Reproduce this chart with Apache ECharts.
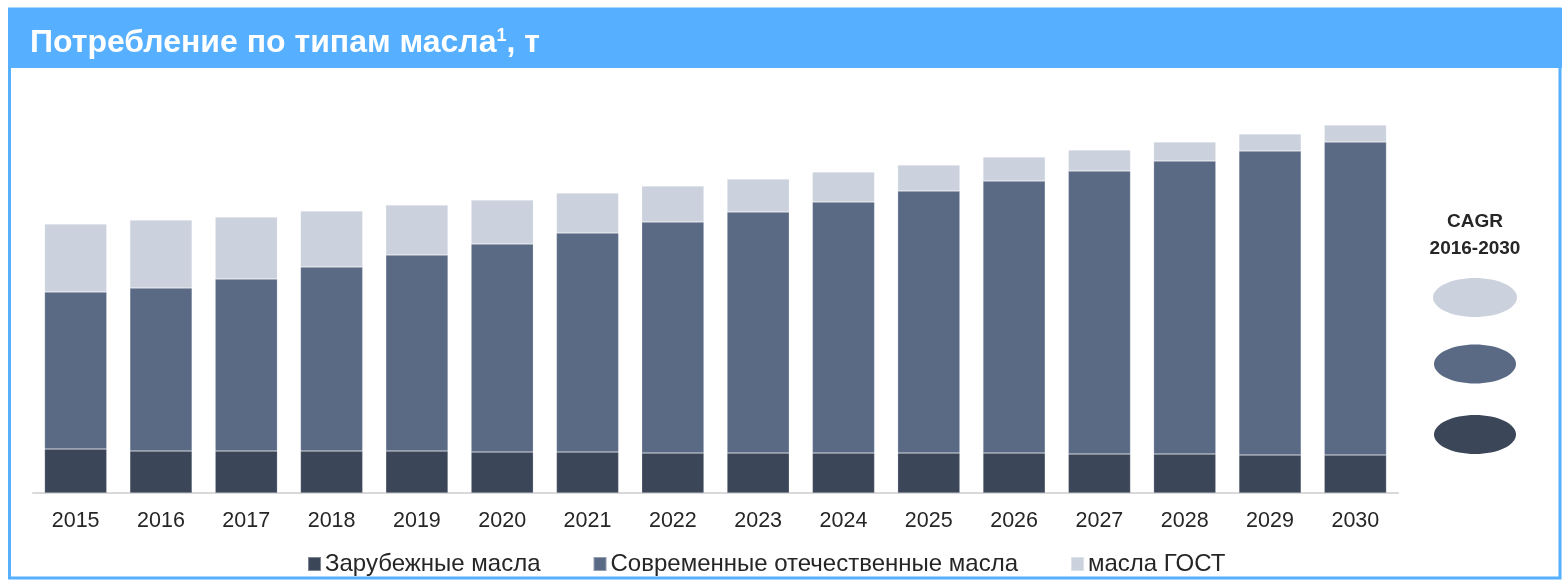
<!DOCTYPE html>
<html>
<head>
<meta charset="utf-8">
<script src="https://cdn.jsdelivr.net/npm/echarts@6/dist/echarts.min.js"></script>
<style>
html,body{margin:0;padding:0;background:#fff;}
#chart{width:1562px;height:581px;}
</style>
</head>
<body>
<div id="chart"></div>
<script>
const years = ['2015','2016','2017','2018','2019','2020','2021','2022','2023','2024','2025','2026','2027','2028','2029','2030'];
const foreignOils = [44,42,42,42,42,41,41,40,40,40,40,40,39,39,38,38];
const modernDomestic = [157,163,172,184,196,208,219,231,241,251,262,272,283,293,304,313];
const gostOils = [68,68,62,56,50,44,40,36,33,30,26,24,21,19,17,17];
const seriesNames = ['Зарубежные масла','Современные отечественные масла','масла ГОСТ'];
const colors = ['#3B4659','#5A6A85','#CBD1DD'];
const FONT = "Arial, 'Liberation Sans', sans-serif";

const chart = echarts.init(document.getElementById('chart'), null, {renderer:'canvas'});
const dataSets = [foreignOils, modernDomestic, gostOils];
const option = {
  animation:false,
  color: colors,
  title: {
    text: '{a|Потребление по типам масла}{s|1}{a|, т}',
    left: 25, top: 22,
    textStyle: {
      rich: {
        a: {fontFamily: FONT, fontSize: 32, fontWeight: 'bold', color: '#fff'},
        s: {fontFamily: FONT, fontSize: 18, fontWeight: 'bold', color: '#fff', verticalAlign: 'top', padding:[0,0,14,0]}
      }
    }
  },
  grid: {left: 33, right: 164, top: 93, bottom: 88, containLabel: false},
  legend: {
    left: 302, top: 547,
    icon: 'rect', itemWidth: 13, itemHeight: 14, itemGap: 52,
    textStyle: {fontFamily: FONT, fontSize: 24, color: '#262626', padding:[0,0,0,-1]},
    data: seriesNames
  },
  xAxis: {
    type: 'category', data: years,
    axisLine: {lineStyle: {color: '#D9D9D9', width: 2}},
    axisTick: {show: false},
    axisLabel: {fontFamily: FONT, fontSize: 21.5, color: '#262626', margin: 17}
  },
  yAxis: {type: 'value', min: 0, max: 400, show: false, splitLine: {show: false}},
  series: dataSets.map((d, i) => ({
    name: seriesNames[i], type: 'bar', stack: 'total', data: d,
    barWidth: '73%',
    itemStyle: {color: colors[i], borderColor: 'rgba(255,255,255,0.35)', borderWidth: 0.6}
  })),
  graphic: [
    {type: 'rect', z: -1, shape: {x: 9.5, y: 9, width: 1550.5, height: 569}, style: {fill: 'none', stroke: '#56AFFF', lineWidth: 3}},
    {type: 'rect', z: 0, shape: {x: 8, y: 8, width: 1554, height: 60}, style: {fill: '#56AFFF'}},
    {type: 'text', z: 10, x: 1475, y: 208, style: {text: 'CAGR\n2016-2030', font: 'bold 19px ' + FONT, fill: '#262626', textAlign: 'center', lineHeight: 27}},
    {type: 'ellipse', shape: {cx: 1475, cy: 297.5, rx: 42, ry: 19.5}, style: {fill: colors[2]}},
    {type: 'ellipse', shape: {cx: 1475, cy: 364, rx: 41, ry: 19.5}, style: {fill: colors[1]}},
    {type: 'ellipse', shape: {cx: 1475, cy: 434.5, rx: 41, ry: 19.5}, style: {fill: colors[0]}}
  ]
};
chart.setOption(option);
</script>
</body>
</html>
